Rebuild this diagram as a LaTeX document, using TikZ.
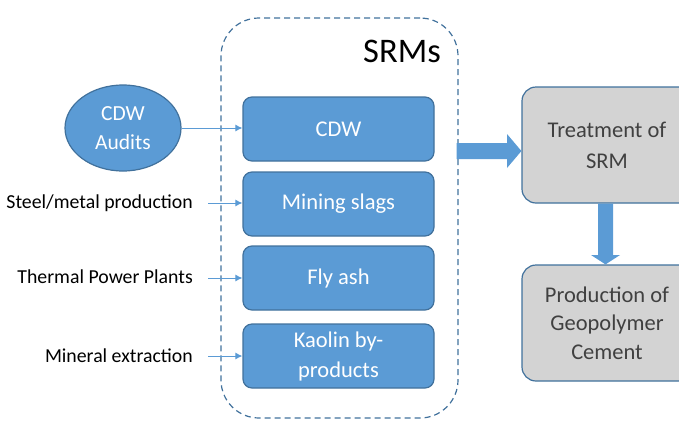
\documentclass[tikz,border=0pt]{standalone}
\usepackage{fontspec}
\setmainfont{Carlito}
\usetikzlibrary{calc,arrows.meta,shapes.geometric}
\definecolor{bfill}{HTML}{5B9BD5}
\definecolor{bline}{HTML}{41719C}
\definecolor{gfill}{HTML}{D3D3D3}
\definecolor{gtext}{HTML}{404040}
\tikzset{
  srmbox/.style={draw=bline, line width=1.2pt, fill=bfill, rounded corners=9pt, minimum width=191pt, minimum height=64pt, text=white, font=\fontsize{22.5}{30}\selectfont, align=center, inner sep=0pt},
  procbox/.style={draw=bline, line width=1.2pt, fill=gfill, rounded corners=14pt, minimum width=170pt, minimum height=116pt, text=gtext, font=\fontsize{22.5}{31}\selectfont, align=center, inner sep=0pt},
  srclabel/.style={anchor=east, font=\fontsize{19.8}{22}\selectfont, text=black, inner sep=0pt},
  thin arrow/.style={draw=bfill, line width=1pt, -{Latex[length=7pt,width=7pt]}},
}
\begin{document}
\begin{tikzpicture}[x=1pt,y=-1pt]
\useasboundingbox (0,0) rectangle (679,429);
% container
\node[draw=bline, dashed, dash pattern=on 6pt off 4pt, line width=1.2pt, rounded corners=38pt, minimum width=237pt, minimum height=400pt, inner sep=0pt] (srm) at (339.5,218) {};
\node[anchor=east, font=\fontsize{34.5}{36}\selectfont, inner sep=0pt] (srmt) at (441,51) {SRMs};
% boxes
\node[srmbox] (cdw) at (338.5,129) {CDW};
\node[srmbox] (mining) at (338.5,204) {Mining slags};
\node[srmbox] (fly) at (338.5,278) {Fly ash};
\node[srmbox] (kaolin) at (338.5,356) {Kaolin by-\\products};
% sources
\node[ellipse, draw=bline, line width=1.2pt, fill=bfill, minimum width=116pt, minimum height=86pt, text=white, font=\fontsize{21.5}{29}\selectfont, align=center, inner sep=0pt] (audits) at (123,128) {CDW\\Audits};
\node[srclabel] (steel) at (193,203) {Steel/metal production};
\node[srclabel] (thermal) at (193,277) {Thermal Power Plants};
\node[srclabel] (mineral) at (193,356) {Mineral extraction};
\coordinate (s1) at (208,203);
\coordinate (s2) at (208,278);
\coordinate (s3) at (208,356);
\draw[thin arrow] (audits.east) -- (cdw.west |- audits.east);
\draw[thin arrow] (s1) -- (mining.west |- s1);
\draw[thin arrow] (s2) -- (fly.west |- s2);
\draw[thin arrow] (s3) -- (kaolin.west |- s3);
% process boxes
\node[procbox] (treat) at (607,145) {Treatment of\\SRM};
\node[procbox, font=\fontsize{22.5}{28.5}\selectfont] (prod) at (607,323) {Production of\\Geopolymer\\Cement};
% fat arrows
\coordinate (h1) at (0,143);
\coordinate (h2) at (0,159);
\coordinate (hc) at (0,151);
\coordinate (v1) at (598,0);
\coordinate (v2) at (613,0);
\coordinate (vc) at (605.5,0);
\fill[bfill] ($(srm.east |- h1)+(-2,0)$) -- (507,143) -- (507,134) -- (treat.west |- hc) -- (507,168) -- (507,159) -- ($(srm.east |- h2)+(-2,0)$) -- cycle;
\fill[bfill] (v1 |- treat.south) -- (598,255) -- (591,255) -- (vc |- prod.north) -- (620,255) -- (613,255) -- (v2 |- treat.south) -- cycle;
\end{tikzpicture}
\end{document}
